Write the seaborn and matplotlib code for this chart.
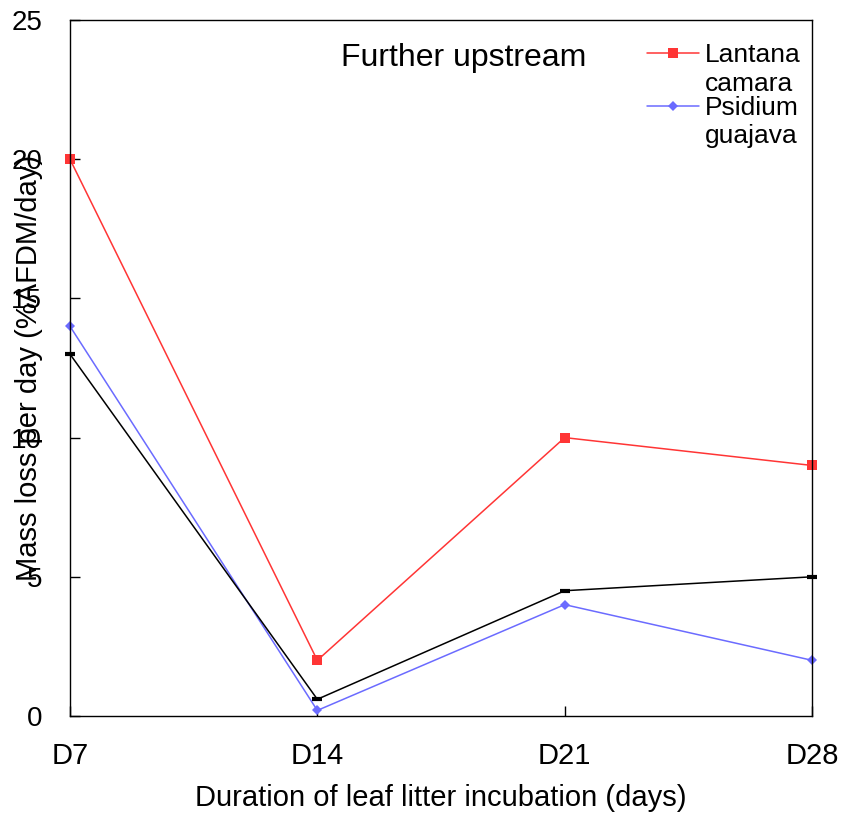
import pandas as pd
import matplotlib
matplotlib.use("Agg")
import matplotlib.pyplot as plt
import seaborn as sns

# values
days = ["D7", "D14", "D21", "D28"]
day_num = [7, 14, 21, 28]
lantana = [20, 2, 10, 9]
psidium = [14, 0.2, 4, 2]
mean_line = [13, 0.6, 4.5, 5]

sns.set_style("white")
plt.rcParams['font.family'] = ['Liberation Sans', 'DejaVu Sans']
plt.rcParams.update({"text.color": "black", "axes.labelcolor": "black",
                     "xtick.color": "black", "ytick.color": "black"})

df = pd.DataFrame({"day": day_num, "Lantana": lantana, "Psidium": psidium, "Mean": mean_line})

fig = plt.figure(figsize=(8.42, 8.14), dpi=100)
ax = fig.add_axes([0.0831, 0.1204, 0.8813, 0.855])

sns.lineplot(ax=ax, data=df, x="day", y="Lantana", color="#ff3535", marker="s",
             markersize=6.5, markeredgewidth=0, markeredgecolor="#ff3535", linewidth=1.1,
             label="Lantana\ncamara", clip_on=False)
sns.lineplot(ax=ax, data=df, x="day", y="Psidium", color="#6b6bff", marker="D",
             markersize=5, markeredgewidth=0, markeredgecolor="#6b6bff", linewidth=1.1,
             label="Psidium\nguajava", clip_on=False)
sns.lineplot(ax=ax, data=df, x="day", y="Mean", color="black", marker="_",
             markersize=7, markeredgewidth=3, markeredgecolor="black", linewidth=1.1,
             legend=False, clip_on=False)

ax.set_xlim(7, 28)
ax.set_ylim(0, 25)
ax.set_xticks(day_num)
ax.set_xticklabels(days)
ax.set_yticks([0, 5, 10, 15, 20, 25])

for s in ax.spines.values():
    s.set_visible(True)
    s.set_color("black")
    s.set_linewidth(1)

ax.tick_params(axis="y", direction="in", length=7, width=1, pad=20, labelsize=20, left=True)
ax.tick_params(axis="x", direction="in", length=7, width=1, pad=18.5, labelsize=21, bottom=True)

ax.set_ylabel("Mass loss per day (%AFDM/day)", fontsize=21)
ax.yaxis.set_label_coords(-0.036, 0.5)
ax.set_xlabel("Duration of leaf litter incubation (days)", fontsize=21)
ax.xaxis.set_label_coords(0.5, -0.097)

ax.text(0.53, 0.945, "Further upstream", transform=ax.transAxes, fontsize=23,
        ha="center", va="center")

leg = ax.legend(loc="upper right", bbox_to_anchor=(1.006, 0.99), frameon=False, fontsize=19,
                handlelength=1.95, handletextpad=0.23, labelspacing=0.0, borderaxespad=0.2)
for t in leg.get_texts():
    t.set_linespacing(1.25)
# put each handle beside the first line of its label
for ln in leg.get_lines():
    ln.set_ydata([y + 11.5 for y in ln.get_ydata()])

fig.savefig("out.png", dpi=100)
